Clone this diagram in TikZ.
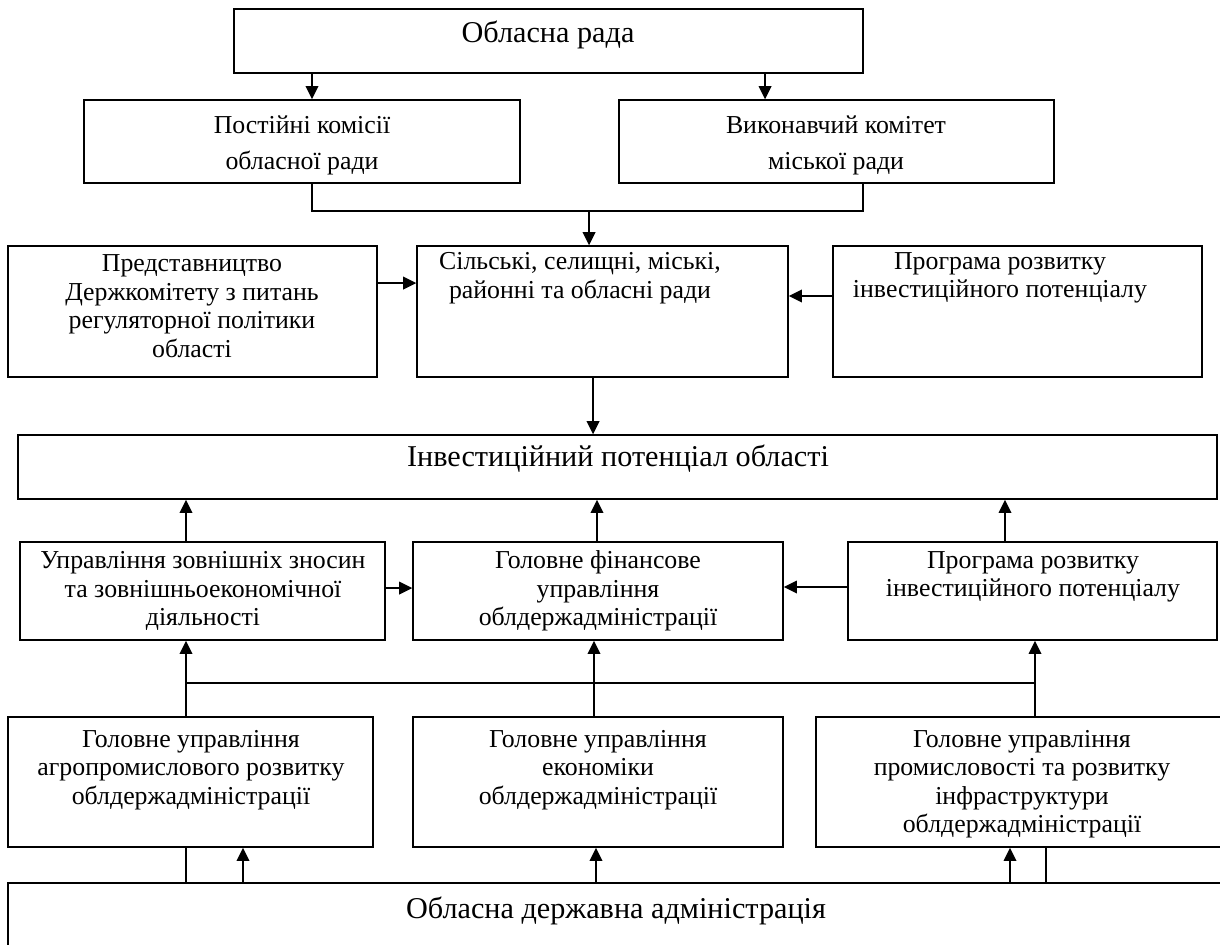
\documentclass[tikz,border=0pt]{standalone}
\usepackage{fontspec}
\setmainfont{Liberation Serif}
\usetikzlibrary{fit,arrows.meta,positioning}

\begin{document}
\begin{tikzpicture}[x=0.02cm,y=-0.02cm,
box/.style={draw, line width=0.7pt, inner sep=0pt},
txt/.style={align=center, inner sep=0pt, font=\fontsize{14.7}{16.2}\selectfont},
widetxt/.style={align=center, inner sep=0pt, font=\fontsize{14.7}{20.4}\selectfont},
bigtxt/.style={align=center, inner sep=0pt, font=\fontsize{17.2}{20}\selectfont},
arr/.style={-{Triangle[length=7.5pt,width=7pt]}, line width=1.4pt},
link/.style={line width=0.7pt},
]
\useasboundingbox (0,0) rectangle (1220,944);

% rada
\node[box, fit={(234,9) (863,73)}] (rada) {};
\node[bigtxt] (rada-t) at (548,35) {Обласна рада};

\node[box, fit={(84,100) (520,183)}] (pk) {};
\node[widetxt] (pk-t) at (302,145) {Постійні комісії\\обласної ради};
\node[box, fit={(619,100) (1054,183)}] (vk) {};
\node[widetxt] (vk-t) at (836,145) {Виконавчий комітет\\міської ради};

\draw[arr] (312,0 |- rada.south) -- (312,0 |- pk.north);
\draw[arr] (765,0 |- rada.south) -- (765,0 |- vk.north);

\coordinate (j1) at (589,211);
\draw[link] (312,0 |- pk.south) -- (312,0 |- j1) -| (863,0 |- vk.south);

% rady
\node[box, fit={(8,246) (377,377)}] (pd) {};
\node[txt] (pd-t) at (192,306) {Представництво\\Держкомітету з питань\\регуляторної політики\\області};
\node[box, fit={(417,246) (788,377)}] (sr) {};
\node[txt] (sr-t) at (580,278) {Сільські, селищні, міські,\\районні та обласні ради};
\node[box, fit={(833,246) (1202,377)}] (pr) {};
\node[txt] (pr-t) at (1000,278) {Програма розвитку\\інвестиційного потенціалу};

\draw[arr] (j1) -- (j1 |- sr.north);
\draw[arr] (pd.east |- 0,283) -- (sr.west |- 0,283);
\draw[arr] (pr.west |- 0,296) -- (sr.east |- 0,296);

% potentsial
\node[box, fit={(18,435) (1217,499)}] (iv) {};
\node[bigtxt] (iv-t) at (618,459) {Інвестиційний потенціал області};
\draw[arr] (593,0 |- sr.south) -- (593,0 |- iv.north);

% upravlinnia
\node[box, fit={(20,542) (385,640)}] (uz) {};
\node[txt] (uz-t) at (203,591) {Управління зовнішніх зносин\\та зовнішньоекономічної\\діяльності};
\node[box, fit={(413,542) (783,640)}] (gf) {};
\node[txt] (gf-t) at (598,591) {Головне фінансове\\управління\\облдержадміністрації};
\node[box, fit={(848,542) (1217,640)}] (pr2) {};
\node[txt] (pr2-t) at (1033,577) {Програма розвитку\\інвестиційного потенціалу};

\draw[arr] (186,0 |- uz.north) -- (186,0 |- iv.south);
\draw[arr] (597,0 |- gf.north) -- (597,0 |- iv.south);
\draw[arr] (1005,0 |- pr2.north) -- (1005,0 |- iv.south);
\draw[arr] (uz.east |- 0,588) -- (gf.west |- 0,588);
\draw[arr] (pr2.west |- 0,587) -- (gf.east |- 0,587);

% holovni
\node[box, fit={(8,717) (373,847)}] (ga) {};
\node[txt] (ga-t) at (191,770) {Головне управління\\агропромислового розвитку\\облдержадміністрації};
\node[box, fit={(413,717) (783,847)}] (ge) {};
\node[txt] (ge-t) at (598,770) {Головне управління\\економіки\\облдержадміністрації};
\node[box, fit={(816,717) (1228,847)}] (gp) {};
\node[txt] (gp-t) at (1022,784) {Головне управління\\промисловості та розвитку\\інфраструктури\\облдержадміністрації};

\coordinate (h1) at (186,683);
\coordinate (h2) at (1035,683);
\draw[arr] (h1 |- ga.north) -- (h1 |- uz.south);
\draw[arr] (594,0 |- ge.north) -- (594,0 |- gf.south);
\draw[arr] (h2 |- gp.north) -- (h2 |- pr2.south);
\draw[link] (h1) -- (h2);

% oda
\node[box, fit={(8,883) (1228,952)}] (oda) {};
\node[bigtxt] (oda-t) at (616,911) {Обласна державна адміністрація};

\draw[link] (186,0 |- ga.south) -- (186,0 |- oda.north);
\draw[arr] (243,0 |- oda.north) -- (243,0 |- ga.south);
\draw[arr] (596,0 |- oda.north) -- (596,0 |- ge.south);
\draw[arr] (1010,0 |- oda.north) -- (1010,0 |- gp.south);
\draw[link] (1046,0 |- gp.south) -- (1046,0 |- oda.north);
\end{tikzpicture}
\end{document}
